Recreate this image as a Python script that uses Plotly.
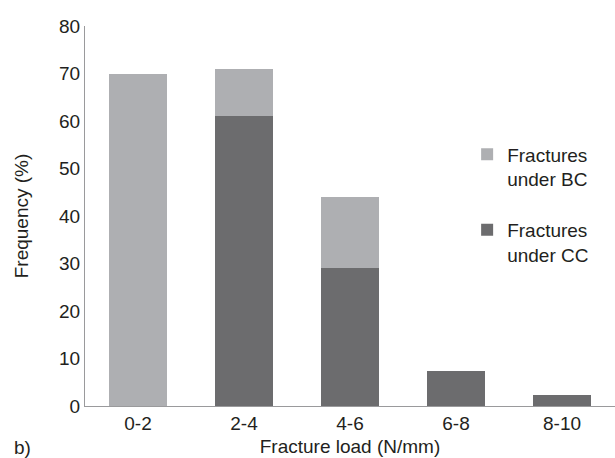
import plotly.graph_objects as go

categories = ["0-2", "2-4", "4-6", "6-8", "8-10"]
cc_values = [0, 61, 29, 7.4, 2.3]
bc_values = [70, 10, 15.1, 0, 0]
y_ticks = [0, 10, 20, 30, 40, 50, 60, 70, 80]

FONT = "Liberation Sans, Arial, Helvetica, sans-serif"
TXT = "#231f20"
FS = 19

fig = go.Figure()
fig.add_trace(go.Bar(
    x=categories, y=cc_values, name="Fractures<br>under CC",
    marker=dict(color="#6c6c6e", line=dict(width=0)),
    legendgroup="cc", legendrank=2,
))
fig.add_trace(go.Bar(
    x=categories, y=bc_values, name="Fractures<br>under BC",
    marker=dict(color="#aeafb2", line=dict(width=0)),
    legendgroup="bc", legendrank=1,
))

fig.update_layout(
    width=615, height=458,
    margin=dict(l=85, r=0, t=26, b=52),
    barmode="stack", bargap=0.445,
    plot_bgcolor="white", paper_bgcolor="white",
    font=dict(family=FONT, size=FS, color=TXT),
    legend=dict(
        x=0.721, y=0.712, xanchor="left", yanchor="top",
        traceorder="grouped", tracegroupgap=23, valign="top",
        font=dict(size=FS, color=TXT), bgcolor="rgba(0,0,0,0)",
    ),
    xaxis=dict(
        range=[-0.5, 4.5], showline=True, linecolor="#9a9a9c", linewidth=1,
        ticks="", showgrid=False, zeroline=False, automargin=False,
        title=dict(text="Fracture load (N/mm)", standoff=6, font=dict(size=FS)),
        tickfont=dict(size=FS),
    ),
    yaxis=dict(
        range=[0, 80], tickvals=y_ticks, showline=True, linecolor="#9a9a9c",
        linewidth=1, ticks="", showgrid=False, zeroline=False, automargin=False,
        title=dict(text="Frequency (%)", standoff=25, font=dict(size=FS)),
        tickfont=dict(size=FS),
    ),
    annotations=[dict(
        text="b)", xref="paper", yref="paper", x=-0.137, y=-0.11,
        xanchor="left", yanchor="middle", showarrow=False,
        font=dict(size=FS, color=TXT),
    )],
)

fig.write_html(
    "out.html",
    config={"displayModeBar": False},
    post_script="document.body.style.margin='0';document.body.style.overflow='hidden';",
)
